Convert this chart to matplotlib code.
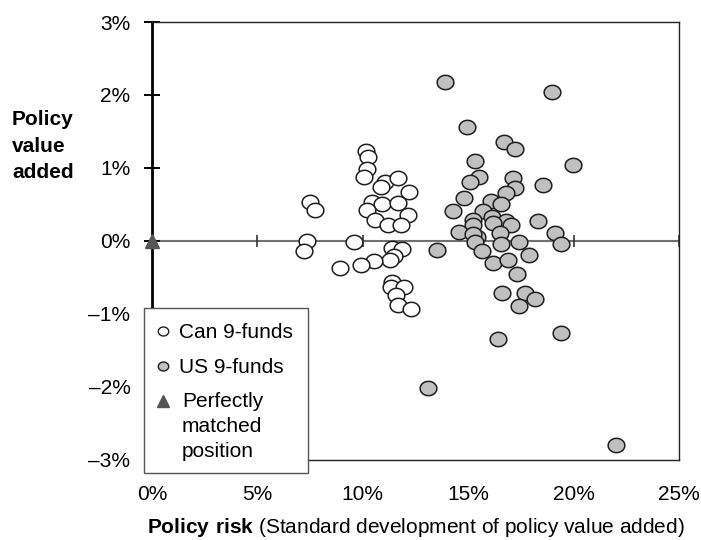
import matplotlib
matplotlib.use('Agg')
import matplotlib.pyplot as plt
import numpy as np
from matplotlib.path import Path
from matplotlib.patches import Rectangle
from matplotlib.lines import Line2D

plt.rcParams['font.family'] = ['Liberation Sans', 'DejaVu Sans']
plt.rcParams['mathtext.fontset'] = 'custom'
plt.rcParams['mathtext.rm'] = 'Liberation Sans'
plt.rcParams['mathtext.bf'] = 'Liberation Sans:bold'

# ---------------- data (percent) ----------------
can_x = [10.14, 10.26, 10.19, 10.06, 11.05, 10.86, 11.68, 12.19, 10.45, 10.93,
         11.68, 10.19, 12.16, 10.58, 11.21, 11.81, 7.50, 7.72, 7.34, 7.21,
         9.58, 11.37, 11.85, 11.48, 11.29, 10.53, 9.90, 8.92, 11.37, 11.34,
         11.95, 11.57, 11.68, 12.29]
can_y = [1.23, 1.15, 0.99, 0.87, 0.81, 0.74, 0.86, 0.67, 0.53, 0.51,
         0.52, 0.42, 0.35, 0.28, 0.22, 0.22, 0.53, 0.42, 0.00, -0.14,
         -0.02, -0.10, -0.11, -0.21, -0.26, -0.28, -0.33, -0.38, -0.56, -0.64,
         -0.64, -0.74, -0.88, -0.94]

us_x = [13.90, 18.96, 14.96, 16.70, 17.22, 15.32, 19.99, 15.53, 15.09, 17.11,
        17.22, 18.53, 16.79, 14.80, 16.07, 16.54, 14.29, 15.69, 16.11, 15.21,
        15.21, 16.79, 17.02, 18.30, 16.19, 19.12, 14.58, 15.40, 15.24, 16.51,
        15.32, 16.54, 17.42, 19.40, 13.52, 15.64, 17.90, 16.19, 16.90, 17.30,
        16.59, 17.69, 18.17, 17.42, 16.40, 19.40, 13.11, 22.01]
us_y = [2.18, 2.04, 1.56, 1.35, 1.26, 1.10, 1.04, 0.88, 0.80, 0.86,
        0.73, 0.76, 0.65, 0.58, 0.54, 0.50, 0.41, 0.41, 0.33, 0.28,
        0.22, 0.27, 0.21, 0.27, 0.24, 0.10, 0.12, 0.05, 0.09, 0.10,
        -0.02, -0.05, -0.02, -0.04, -0.13, -0.14, -0.20, -0.31, -0.26, -0.46,
        -0.71, -0.71, -0.80, -0.89, -1.35, -1.26, -2.02, -2.80]

match_x = [0.0]
match_y = [0.0]

x_ticks = [0, 5, 10, 15, 20, 25]
x_ticklabels = ['0%', '5%', '10%', '15%', '20%', '25%']
y_ticks = [-3, -2, -1, 0, 1, 2, 3]
y_ticklabels = ['\u20133%', '\u20132%', '\u20131%', '0%', '1%', '2%', '3%']

legend_labels = ['Can 9-funds', 'US 9-funds', 'Perfectly\nmatched\nposition']

# ---------------- figure ----------------
W, H = 701, 540
fig = plt.figure(figsize=(W / 100, H / 100), dpi=100)
fig.patch.set_facecolor('white')

def fx(px):
    return px / W

def fy(py):
    return 1 - py / H

ax = fig.add_axes([fx(152), fy(459.5), (679 - 152) / W, (459.5 - 22) / H])
ax.set_xlim(0, 25)
ax.set_ylim(-3, 3)

# ellipse marker
t = np.linspace(0, 2 * np.pi, 65)
ellipse = Path(np.column_stack([np.cos(t), 0.86 * np.sin(t)]))

# zero line with tick marks
ax.axhline(0, color='#707070', lw=1.5, zorder=1)
ax.plot(x_ticks[1:], [0] * (len(x_ticks) - 1), ls='none', marker='|',
        ms=8.5, mew=1.2, color='#333333', zorder=1.5, clip_on=False)

edge = '#1e1e1e'
ax.plot(can_x, can_y, ls='none', marker=ellipse, ms=12, mfc='white',
        mec=edge, mew=1.1, zorder=3)
ax.plot(us_x, us_y, ls='none', marker=ellipse, ms=12, mfc='#c0c0c0',
        mec=edge, mew=1.1, zorder=3)
ax.plot(match_x, match_y, ls='none', marker='^', ms=10, color='#555555',
        zorder=5, clip_on=False)

# spines / ticks
for s in ['top', 'right', 'bottom']:
    ax.spines[s].set_linewidth(1.0)
    ax.spines[s].set_color('#222222')
ax.spines['left'].set_linewidth(2.0)
ax.spines['left'].set_color('black')

ax.set_yticks(y_ticks)
ax.set_yticklabels(y_ticklabels)
ax.set_xticks(x_ticks)
ax.set_xticklabels(x_ticklabels)
ax.tick_params(axis='y', direction='inout', length=12, width=1.4,
               labelsize=15, pad=9.5, color='black')
ax.tick_params(axis='x', length=0, labelsize=15, pad=18)

ax.set_xlabel(r'$\mathbf{Policy\ risk}$ (Standard development of policy value added)',
              fontsize=15, labelpad=9)
ax.set_ylabel('Policy\nvalue\nadded', rotation=0, fontsize=15,
              fontweight='bold', ha='left', va='center', linespacing=1.5)
ax.yaxis.set_label_coords((12 - 152) / 527, (459.5 - 146) / 437.5)

# ---------------- legend (drawn manually) ----------------
fig.add_artist(Rectangle((fx(144), fy(473)), (308 - 144) / W, (473 - 308) / H,
                         transform=fig.transFigure, facecolor='white',
                         edgecolor='#555555', lw=1.0, zorder=10))
leg_y = [331, 366, 401]
fig.add_artist(Line2D([fx(162.7)], [fy(leg_y[0])], ls='none', marker=ellipse,
                      ms=7.5, mfc='white', mec=edge, mew=1.0,
                      transform=fig.transFigure, zorder=11))
fig.add_artist(Line2D([fx(162.7)], [fy(leg_y[1])], ls='none', marker=ellipse,
                      ms=7.5, mfc='#c0c0c0', mec=edge, mew=1.0,
                      transform=fig.transFigure, zorder=11))
fig.add_artist(Line2D([fx(163)], [fy(leg_y[2])], ls='none', marker='^',
                      ms=8.5, color='#555555',
                      transform=fig.transFigure, zorder=11))
fig.text(fx(179), fy(338.5), legend_labels[0], fontsize=15, va='baseline',
         ha='left', zorder=12)
fig.text(fx(179), fy(373), legend_labels[1], fontsize=15, va='baseline',
         ha='left', zorder=12)
for i, line in enumerate(legend_labels[2].split('\n')):
    fig.text(fx(182), fy(407 + 25 * i), line, fontsize=15, va='baseline',
             ha='left', zorder=12)

fig.savefig('out.png', dpi=100)
